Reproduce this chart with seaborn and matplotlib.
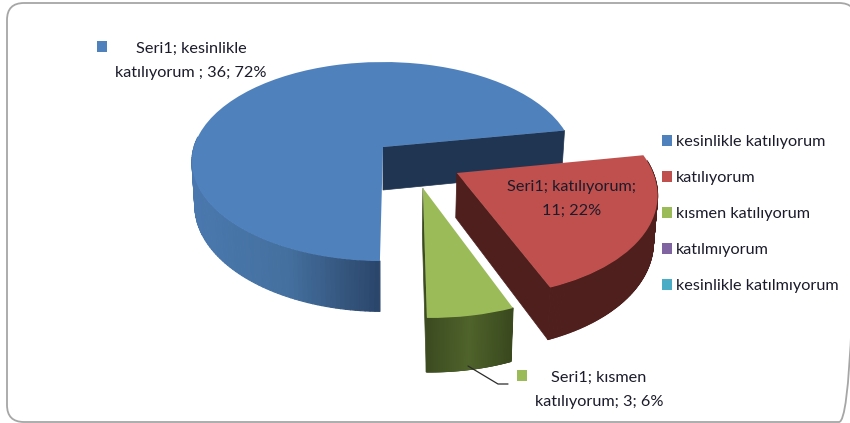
import numpy as np
import matplotlib
matplotlib.use("Agg")
import matplotlib.pyplot as plt
import seaborn as sns
from matplotlib.collections import PolyCollection
from matplotlib.colors import LinearSegmentedColormap
from matplotlib.patches import FancyBboxPatch, Rectangle
from matplotlib.transforms import Transform

categories = ["kesinlikle katılıyorum", "katılıyorum", "kısmen katılıyorum",
              "katılmıyorum", "kesinlikle katılmıyorum"]
values = [36, 11, 3, 0, 0]
data_labels = ["Seri1; kesinlikle\nkatılıyorum ; 36; 72%",
               "Seri1; katılıyorum;\n11; 22%",
               "Seri1; kısmen\nkatılıyorum; 3; 6%"]
colors = ["#4f81bd", "#c0504d", "#9bbb59", "#8064a2", "#4bacc6"]

# camera for the fake 3d look, in pixels of the 850x423 picture
X0, Y0, RX, RY, K = 383, 147, 189, 97.4, 0.146
DEPTH, BOTTOM_X = 43, 0.985
offsets = [(0, 0), (0.376, -0.257), (0.199, -0.397), (0, 0), (0, 0)]

wall_maps = [["#4a78ae", "#44709f", "#2a4468"],
             ["#4e1f1c", "#4e1f1c"],
             ["#3c4b20", "#4f632b", "#3a491e"]]
cut_colors = ["#1f3552", "#4e1f1c", "#3c4b20"]


def project(u, v, off, bottom=False):
    u, v = np.asarray(u) + off[0], np.asarray(v) + off[1]
    w = 1 + K * v
    x = RX * u / w
    y = -RY * v / w
    if bottom:
        return X0 + x * BOTTOM_X, Y0 + y + DEPTH / w
    return X0 + x, Y0 + y


class Perspective(Transform):
    input_dims = output_dims = 2

    def __init__(self, off):
        super().__init__()
        self.off = off

    def transform_non_affine(self, values):
        x, y = project(values[:, 0], values[:, 1], self.off)
        return np.column_stack([x, y])


sns.set_theme(style="white")
plt.rcParams["font.family"] = ["Lato", "DejaVu Sans"]
fig = plt.figure(figsize=(8.5, 4.23), dpi=100)
ax = fig.add_axes([0, 0, 1, 1])

wedges, _ = ax.pie(values, colors=sns.color_palette(colors), startangle=269.2,
                   counterclock=False)
ax.set_aspect("auto")
ax.set_xlim(0, 850)
ax.set_ylim(423, 0)

for i, wedge in enumerate(wedges):
    wedge.set_transform(Perspective(offsets[i]) + ax.transData)
    wedge.set_zorder(3 + 2 * i)
    wedge.set_linewidth(0)
    if values[i] == 0:
        continue
    off = offsets[i]
    th = np.radians(np.linspace(wedge.theta1, wedge.theta2, 200))
    u, v = np.cos(th), np.sin(th)
    keep = v < 0.12
    u, v = u[keep], v[keep]
    xt, yt = project(u, v, off)
    xb, yb = project(u, v, off, bottom=True)
    polys = [[(xt[j], yt[j]), (xt[j + 1], yt[j + 1]), (xb[j + 1], yb[j + 1]), (xb[j], yb[j])]
             for j in range(len(u) - 1)]
    cmap = LinearSegmentedColormap.from_list("wall", wall_maps[i])
    cols = cmap((xt[:-1] - xt.min()) / (xt.max() - xt.min()))
    walls = PolyCollection(polys, facecolors=cols, edgecolors=cols, linewidths=0.8,
                           zorder=2 + 2 * i)
    walls.set_snap(False)
    ax.add_collection(walls)
    # flat cut wall running from the apex
    cu, cv = np.cos(np.radians(wedge.theta1)), np.sin(np.radians(wedge.theta1))
    x1, y1 = project(0, 0, off)
    x2, y2 = project(cu, cv, off)
    x3, y3 = project(cu, cv, off, bottom=True)
    x4, y4 = project(0, 0, off, bottom=True)
    ax.fill([x1, x2, x3, x4], [y1, y2, y3, y4], color=cut_colors[i], lw=0.5, zorder=2 + 2 * i)

border = FancyBboxPatch((7, 3), 849, 419, boxstyle="round,pad=0,rounding_size=17",
                        fc="none", ec="#a6a6a6", lw=1.3, zorder=1)
ax.add_patch(border)

txt = "#1b1b2b"
ax.text(191, 61, data_labels[0], ha="center", va="center", fontsize=11.7, color=txt,
        linespacing=1.9, zorder=20)
ax.text(572, 199, data_labels[1], ha="center", va="center", fontsize=11.7, color=txt,
        linespacing=1.9, zorder=20)
ax.text(599, 390, data_labels[2], ha="center", va="center", fontsize=11.7, color=txt,
        linespacing=1.9, zorder=20)
ax.add_patch(Rectangle((97, 41), 10, 11, fc=colors[0], ec="none", zorder=20))
ax.add_patch(Rectangle((517, 370), 10, 11, fc=colors[2], ec="none", zorder=20))
ax.plot([468, 498, 508], [366, 384, 384], color="#2b2b2b", lw=0.9, zorder=20)

leg = ax.legend(wedges, categories, loc="upper left", bbox_to_anchor=(662 / 850, 1 - 135 / 423),
                frameon=False, fontsize=11.7, labelspacing=1.35, handlelength=0.62,
                handleheight=0.65, handletextpad=0.25, borderpad=0, borderaxespad=0,
                labelcolor=txt)
leg.set_zorder(20)

fig.savefig("out.png", dpi=100)
